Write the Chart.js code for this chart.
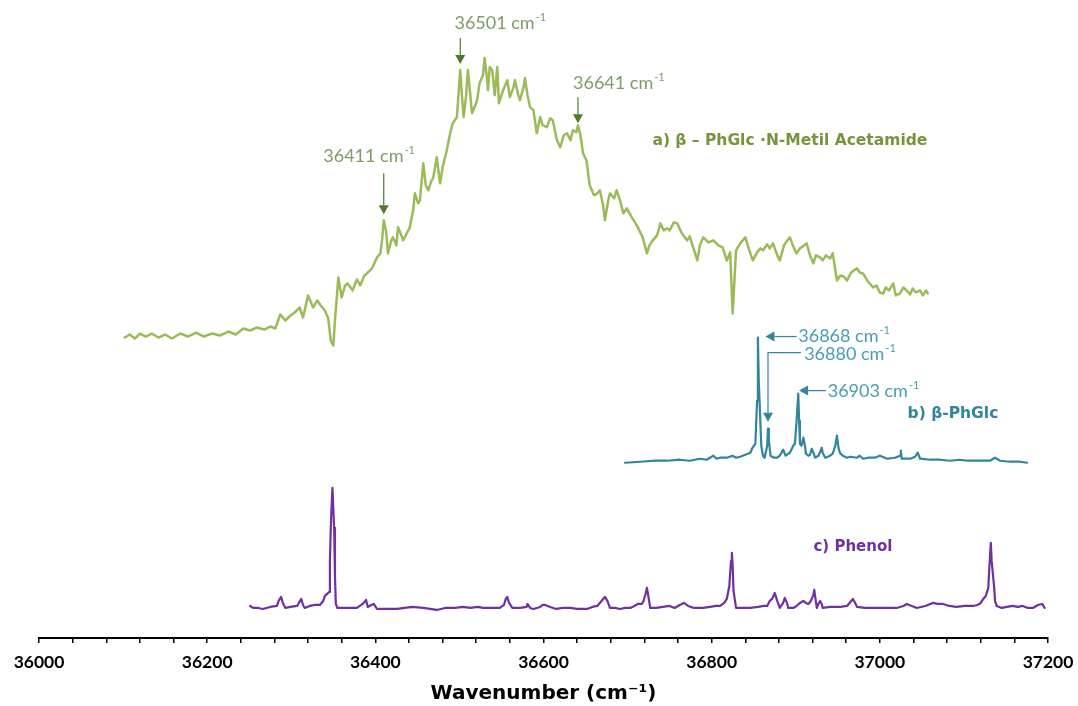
<!DOCTYPE html>
<html>
<head>
<meta charset="utf-8">
<script src="https://cdn.jsdelivr.net/npm/chart.js@4.4.1/dist/chart.umd.min.js"></script>
<style>
  html, body { margin: 0; padding: 0; background: #fff; }
  #wrap { width: 1078px; height: 706px; position: relative; }
</style>
</head>
<body>
<div id="wrap"><canvas id="grafico"></canvas></div>
<script>
// a) beta-PhGlc · N-Metil Acetamide
const wnA = [36102,36108,36114,36120,36127,36134,36142,36150,36158,36168,36177,36187,36196,36206,36215,36225,36234,36243,36251,36259,36268,36275,36281,36287,36293,36299,36304,36310,36314,36320,36326,36331,36335,36340,36344,36347,36350,36352,36356,36360,36364,36367,36373,36378,36382,36387,36390,36396,36402,36406,36408,36410,36413,36415,36419,36421,36425,36427,36431,36433,36438,36441,36445,36447,36451,36453,36457,36460,36463,36466,36469,36473,36477,36480,36485,36489,36492,36497,36501,36503,36505,36508,36510,36513,36515,36519,36521,36524,36528,36530,36533,36534,36536,36539,36542,36545,36547,36552,36557,36560,36564,36566,36570,36572,36576,36578,36581,36584,36588,36592,36596,36599,36604,36608,36611,36616,36620,36624,36628,36632,36635,36639,36641,36644,36647,36651,36655,36660,36664,36667,36671,36673,36677,36679,36684,36687,36691,36695,36699,36705,36711,36718,36723,36726,36730,36735,36739,36743,36747,36750,36755,36759,36764,36767,36771,36774,36778,36783,36786,36790,36796,36802,36808,36813,36818,36822,36825,36829,36834,36840,36844,36849,36854,36858,36861,36866,36869,36873,36878,36881,36886,36890,36893,36898,36901,36905,36910,36913,36917,36921,36924,36929,36932,36936,36941,36944,36949,36953,36957,36961,36966,36969,36973,36976,36980,36985,36988,36992,36996,37000,37004,37007,37011,37016,37019,37024,37028,37032,37036,37039,37043,37048,37051,37055,37057];
const intA = [300,303,299,304,301,304,300,303,299,304,301,305,301,304,302,306,303,309,307,310,308,311,309,323,317,322,325,330,320,342,330,337,332,327,319,297,292,317,360,340,352,354,347,358,352,362,364,369,380,384,397,417,405,384,397,400,392,410,402,397,405,410,427,444,434,437,474,452,447,455,460,480,454,470,487,504,514,520,567,542,520,542,567,542,524,532,537,554,562,579,557,547,570,567,542,570,534,547,557,540,549,557,542,537,549,559,542,530,527,504,520,512,510,519,517,497,490,502,504,497,507,505,512,502,484,477,452,442,444,447,432,417,437,444,439,447,437,424,429,420,412,400,384,392,397,402,414,407,409,407,415,414,405,401,397,401,390,377,392,400,395,397,392,390,377,385,324,387,394,400,389,377,385,389,387,393,389,394,382,377,392,397,400,389,384,389,392,394,382,374,382,380,377,382,379,384,357,362,361,357,365,367,369,365,364,357,354,350,352,345,344,350,347,354,342,344,350,347,343,349,345,347,342,347,344];

// b) beta-PhGlc
const wnB = [36697,36715,36733,36747,36762,36774,36786,36794,36802,36806,36810,36818,36825,36829,36834,36840,36846,36848,36852,36854,36855,36856,36859,36861,36863,36866,36867,36868,36870,36874,36878,36881,36885,36888,36891,36893,36897,36899,36901,36903,36904,36905,36907,36909,36911,36912,36915,36917,36919,36921,36923,36927,36931,36932,36935,36941,36944,36947,36949,36951,36953,36956,36961,36965,36973,36976,36980,36986,36994,37000,37009,37018,37024,37025,37026,37036,37042,37045,37048,37060,37072,37083,37095,37104,37119,37131,37137,37143,37155,37167,37175];
const intB = [175,176,177,177,178,177,179,178,182,179,180,180,182,180,181,183,185,189,194,237,300,257,192,182,180,192,209,197,182,180,180,182,188,182,184,185,192,194,217,244,217,194,192,200,192,184,182,183,189,185,180,182,190,185,180,182,184,192,202,189,184,182,180,181,180,182,179,180,180,182,179,180,182,187,179,179,181,185,179,178,178,177,178,177,177,177,180,177,176,176,175];

// c) Phenol
const wnC = [36251,36255,36261,36266,36275,36283,36285,36288,36290,36293,36299,36307,36309,36312,36314,36316,36322,36328,36334,36338,36340,36344,36345,36346,36347,36348,36349,36351,36352,36353,36355,36361,36370,36378,36385,36389,36391,36395,36398,36402,36411,36426,36435,36444,36457,36465,36473,36483,36495,36504,36513,36522,36528,36536,36548,36553,36555,36557,36559,36563,36572,36580,36581,36584,36588,36596,36599,36602,36605,36608,36615,36623,36632,36640,36652,36658,36664,36668,36671,36673,36676,36679,36685,36691,36697,36703,36708,36712,36717,36719,36721,36723,36724,36727,36734,36742,36750,36756,36762,36767,36772,36779,36786,36790,36798,36805,36810,36815,36818,36821,36823,36824,36825,36826,36829,36836,36846,36855,36862,36866,36869,36872,36874,36875,36878,36881,36885,36887,36890,36891,36897,36901,36905,36909,36912,36915,36918,36921,36922,36923,36925,36927,36929,36931,36932,36941,36953,36961,36965,36968,36970,36973,36982,36992,37000,37012,37020,37028,37032,37038,37044,37054,37060,37063,37069,37075,37083,37091,37101,37111,37116,37120,37123,37126,37129,37130,37132,37133,37136,37137,37139,37145,37151,37158,37164,37170,37176,37182,37188,37193,37196];
const intC = [32,30,30,29,31,32,37,41,35,30,31,32,35,39,33,30,32,33,33,37,42,45,46,77,110,132,150,110,62,34,30,30,30,30,34,38,31,33,34,29,29,29,30,31,30,29,28,30,30,31,30,31,30,30,30,33,39,41,35,30,30,31,34,30,29,31,33,33,32,31,29,30,30,29,29,31,32,36,39,41,37,30,30,29,30,30,32,34,34,37,43,50,45,30,30,31,32,30,33,35,32,30,30,30,31,32,32,35,39,52,77,85,72,47,30,30,30,31,32,32,37,39,43,45,37,30,35,40,34,30,30,32,35,37,35,34,37,43,48,42,30,34,37,34,30,31,31,32,36,39,36,31,30,30,30,30,30,32,34,32,30,32,34,35,34,34,32,31,32,32,33,35,39,42,50,67,95,77,50,37,32,30,31,32,31,32,30,30,33,34,30];

const xMin = 36000, xMax = 37200;
const tickStep = 40, labelStep = 200;

// anotaciones: texto, posicion en unidades de los datos
const notasPico = [
  { num: '36501', tx: 36548, ty: 614, align: 'center', color: '#7f9c68', arrowColor: '#4f7a2b', arrow: [[36501, 599], [36501, 573]] },
  { num: '36641', tx: 36689, ty: 554, align: 'center', color: '#7f9c68', arrowColor: '#4f7a2b', arrow: [[36641, 540], [36641, 514]] },
  { num: '36411', tx: 36392, ty: 481, align: 'center', color: '#7f9c68', arrowColor: '#4f7a2b', arrow: [[36410, 464], [36410, 423]] },
  { num: '36868', tx: 36903, ty: 301, align: 'left', color: '#4a9db3', arrowColor: '#31859c', arrow: [[36901, 301], [36864, 301]] },
  { num: '36880', tx: 36910, ty: 283, align: 'left', color: '#4a9db3', arrowColor: '#31859c', arrow: [[36906, 285], [36867, 285], [36867, 216]] },
  { num: '36903', tx: 36938, ty: 246, align: 'left', color: '#4a9db3', arrowColor: '#31859c', arrow: [[36936, 247], [36904, 247]] }
];
const etiquetas = [
  { text: 'a) \u03b2 \u2013 PhGlc \u00b7N-Metil Acetamide', x: 36893, y: 496, size: 15.5, color: '#77933c' },
  { text: 'b) \u03b2-PhGlc', x: 37087, y: 224, size: 15.5, color: '#31859c' },
  { text: 'c) Phenol', x: 36968, y: 91, size: 15, color: '#7030a0' }
];

const FONT = 'Lato, "Noto Sans", sans-serif';
const FONT_ANCHA = '"DejaVu Sans", Lato, sans-serif';

function dibujarFlecha(ctx, pts, color) {
  ctx.save();
  ctx.strokeStyle = color;
  ctx.fillStyle = color;
  ctx.lineWidth = 1.2;
  const n = pts.length;
  const [xa, ya] = pts[n - 2];
  const [xb, yb] = pts[n - 1];
  const ang = Math.atan2(yb - ya, xb - xa);
  const L = 9, W = 5;
  ctx.beginPath();
  ctx.moveTo(pts[0][0], pts[0][1]);
  for (let i = 1; i < n - 1; i++) ctx.lineTo(pts[i][0], pts[i][1]);
  ctx.lineTo(xb - Math.cos(ang) * L, yb - Math.sin(ang) * L);
  ctx.stroke();
  ctx.beginPath();
  ctx.moveTo(xb, yb);
  ctx.lineTo(xb - Math.cos(ang) * L - Math.sin(ang) * W, yb - Math.sin(ang) * L + Math.cos(ang) * W);
  ctx.lineTo(xb - Math.cos(ang) * L + Math.sin(ang) * W, yb - Math.sin(ang) * L - Math.cos(ang) * W);
  ctx.closePath();
  ctx.fill();
  ctx.restore();
}

function dibujarCm(ctx, num, x, y, align, color) {
  const base = num + ' cm';
  ctx.save();
  ctx.fillStyle = color;
  ctx.textBaseline = 'middle';
  ctx.font = '400 18px ' + FONT;
  const w1 = ctx.measureText(base).width;
  ctx.font = '400 11px ' + FONT;
  const w2 = ctx.measureText('-1').width;
  let x0 = align === 'center' ? x - (w1 + w2) / 2 : x;
  ctx.textAlign = 'left';
  ctx.font = '400 18px ' + FONT;
  ctx.fillText(base, x0, y);
  ctx.font = '400 11px ' + FONT;
  ctx.fillText('-1', x0 + w1 + 1, y - 6);
  ctx.restore();
}

const pluginNotas = {
  id: 'notas',
  afterDatasetsDraw(chart) {
    const ctx = chart.ctx;
    const sx = chart.scales.x, sy = chart.scales.y;
    notasPico.forEach(n => {
      const pts = n.arrow.map(p => [sx.getPixelForValue(p[0]), sy.getPixelForValue(p[1])]);
      dibujarFlecha(ctx, pts, n.arrowColor);
      dibujarCm(ctx, n.num, sx.getPixelForValue(n.tx), sy.getPixelForValue(n.ty), n.align, n.color);
    });
    etiquetas.forEach(e => {
      ctx.save();
      ctx.fillStyle = e.color;
      ctx.font = '700 ' + e.size + 'px ' + FONT_ANCHA;
      ctx.textAlign = 'center';
      ctx.textBaseline = 'middle';
      ctx.fillText(e.text, sx.getPixelForValue(e.x), sy.getPixelForValue(e.y));
      ctx.restore();
    });
  }
};

function serie(wn, val) {
  return wn.map((w, i) => ({ x: w, y: val[i] }));
}

const ctx = document.getElementById('grafico').getContext('2d');
new Chart(ctx, {
  type: 'line',
  data: {
    datasets: [
      { label: 'a', data: serie(wnA, intA), borderColor: '#9bbb59', borderWidth: 2.5 },
      { label: 'b', data: serie(wnB, intB), borderColor: '#31859c', borderWidth: 2.2 },
      { label: 'c', data: serie(wnC, intC), borderColor: '#7030a0', borderWidth: 2.2 }
    ]
  },
  options: {
    responsive: true,
    maintainAspectRatio: false,
    animation: false,
    layout: { padding: { left: 39, right: 30, top: 0, bottom: 0 } },
    elements: {
      point: { radius: 0 },
      line: { tension: 0, borderJoinStyle: 'round', borderCapStyle: 'round' }
    },
    plugins: {
      legend: { display: false },
      tooltip: { enabled: false }
    },
    scales: {
      x: {
        type: 'linear',
        min: xMin,
        max: xMax,
        afterFit: s => { s.paddingLeft = 0; s.paddingRight = 0; },
        ticks: {
          stepSize: tickStep,
          autoSkip: false,
          maxRotation: 0,
          color: '#000',
          padding: 9,
          font: { family: FONT, size: 17.5, weight: '700' },
          callback: v => (v % labelStep === 0 ? String(v) : '')
        },
        grid: { drawOnChartArea: false, drawTicks: true, tickLength: 5, color: '#000', lineWidth: 1.5 },
        border: { display: true, color: '#000', width: 2 },
        title: {
          display: true,
          text: 'Wavenumber (cm\u207b\u00b9)',
          color: '#000',
          font: { family: FONT_ANCHA, size: 20, weight: '700' },
          padding: { top: 0, bottom: 0 }
        }
      },
      y: { display: false, min: 0, max: 637 }
    }
  },
  plugins: [pluginNotas]
});
</script>
</body>
</html>
